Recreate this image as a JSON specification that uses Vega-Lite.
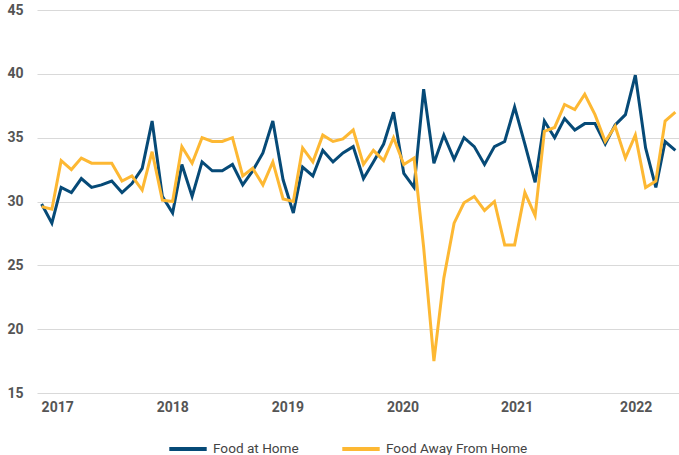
{
  "$schema": "https://vega.github.io/schema/vega-lite/v6.json",
  "width": 642,
  "height": 383,
  "autosize": {"type": "none"},
  "padding": {"left": 37, "top": 10, "right": 0, "bottom": 62},
  "background": "white",
  "config": {"view": {"stroke": null}, "font": "Roboto"},
  "data": {"values": [
    {"date": "2017-01-01", "home": 29.8, "away": 29.6},
    {"date": "2017-02-01", "home": 28.3, "away": 29.4},
    {"date": "2017-03-01", "home": 31.1, "away": 33.2},
    {"date": "2017-04-01", "home": 30.7, "away": 32.5},
    {"date": "2017-05-01", "home": 31.8, "away": 33.4},
    {"date": "2017-06-01", "home": 31.1, "away": 33.0},
    {"date": "2017-07-01", "home": 31.3, "away": 33.0},
    {"date": "2017-08-01", "home": 31.6, "away": 33.0},
    {"date": "2017-09-01", "home": 30.7, "away": 31.6},
    {"date": "2017-10-01", "home": 31.4, "away": 32.0},
    {"date": "2017-11-01", "home": 32.6, "away": 30.9},
    {"date": "2017-12-01", "home": 36.3, "away": 33.9},
    {"date": "2018-01-01", "home": 30.4, "away": 30.1},
    {"date": "2018-02-01", "home": 29.1, "away": 30.0},
    {"date": "2018-03-01", "home": 32.9, "away": 34.3},
    {"date": "2018-04-01", "home": 30.4, "away": 33.0},
    {"date": "2018-05-01", "home": 33.1, "away": 35.0},
    {"date": "2018-06-01", "home": 32.4, "away": 34.7},
    {"date": "2018-07-01", "home": 32.4, "away": 34.7},
    {"date": "2018-08-01", "home": 32.9, "away": 35.0},
    {"date": "2018-09-01", "home": 31.3, "away": 32.0},
    {"date": "2018-10-01", "home": 32.4, "away": 32.6},
    {"date": "2018-11-01", "home": 33.8, "away": 31.3},
    {"date": "2018-12-01", "home": 36.3, "away": 33.1},
    {"date": "2019-01-01", "home": 31.7, "away": 30.2},
    {"date": "2019-02-01", "home": 29.1, "away": 30.0},
    {"date": "2019-03-01", "home": 32.7, "away": 34.2},
    {"date": "2019-04-01", "home": 32.0, "away": 33.1},
    {"date": "2019-05-01", "home": 34.0, "away": 35.2},
    {"date": "2019-06-01", "home": 33.1, "away": 34.7},
    {"date": "2019-07-01", "home": 33.8, "away": 34.9},
    {"date": "2019-08-01", "home": 34.3, "away": 35.6},
    {"date": "2019-09-01", "home": 31.8, "away": 32.9},
    {"date": "2019-10-01", "home": 33.1, "away": 34.0},
    {"date": "2019-11-01", "home": 34.5, "away": 33.2},
    {"date": "2019-12-01", "home": 37.0, "away": 35.0},
    {"date": "2020-01-01", "home": 32.2, "away": 32.9},
    {"date": "2020-02-01", "home": 31.1, "away": 33.4},
    {"date": "2020-03-01", "home": 38.8, "away": 26.4},
    {"date": "2020-04-01", "home": 33.0, "away": 17.5},
    {"date": "2020-05-01", "home": 35.2, "away": 24.0},
    {"date": "2020-06-01", "home": 33.3, "away": 28.3},
    {"date": "2020-07-01", "home": 35.0, "away": 29.9},
    {"date": "2020-08-01", "home": 34.3, "away": 30.4},
    {"date": "2020-09-01", "home": 32.9, "away": 29.3},
    {"date": "2020-10-01", "home": 34.3, "away": 30.0},
    {"date": "2020-11-01", "home": 34.7, "away": 26.6},
    {"date": "2020-12-01", "home": 37.4, "away": 26.6},
    {"date": "2021-01-01", "home": 34.5, "away": 30.7},
    {"date": "2021-02-01", "home": 31.5, "away": 28.9},
    {"date": "2021-03-01", "home": 36.3, "away": 35.5},
    {"date": "2021-04-01", "home": 35.0, "away": 35.8},
    {"date": "2021-05-01", "home": 36.5, "away": 37.6},
    {"date": "2021-06-01", "home": 35.6, "away": 37.2},
    {"date": "2021-07-01", "home": 36.1, "away": 38.4},
    {"date": "2021-08-01", "home": 36.1, "away": 36.8},
    {"date": "2021-09-01", "home": 34.5, "away": 34.7},
    {"date": "2021-10-01", "home": 36.0, "away": 35.9},
    {"date": "2021-11-01", "home": 36.8, "away": 33.4},
    {"date": "2021-12-01", "home": 39.9, "away": 35.2},
    {"date": "2022-01-01", "home": 34.2, "away": 31.1},
    {"date": "2022-02-01", "home": 31.1, "away": 31.6},
    {"date": "2022-03-01", "home": 34.7, "away": 36.3},
    {"date": "2022-04-01", "home": 34.0, "away": 37.0}
  ]},
  "transform": [{"fold": ["home", "away"], "as": ["series", "value"]}],
  "mark": {"type": "line", "strokeWidth": 3},
  "encoding": {
    "x": {
      "field": "date",
      "type": "temporal",
      "scale": {"domain": [{"year": 2016, "month": 12, "date": 18}, {"year": 2022, "month": 4, "date": 12}]},
      "axis": {
        "title": null,
        "grid": false,
        "ticks": false,
        "domain": false,
        "labelFlush": false,
        "labelOverlap": false,
        "values": [
          {"year": 2017, "month": 2, "date": 17},
          {"year": 2018, "month": 1, "date": 31},
          {"year": 2019, "month": 1, "date": 14},
          {"year": 2019, "month": 12, "date": 28},
          {"year": 2020, "month": 12, "date": 7},
          {"year": 2021, "month": 12, "date": 2}
        ],
        "labelExpr": "timeFormat(time(datum.value) + 3024000000, '%Y')",
        "labelPadding": 7,
        "labelFontSize": 14,
        "labelFontWeight": "bold",
        "labelColor": "#555555"
      }
    },
    "y": {
      "field": "value",
      "type": "quantitative",
      "scale": {"domain": [15, 45], "nice": false, "zero": false},
      "axis": {
        "title": null,
        "values": [15, 20, 25, 30, 35, 40, 45],
        "grid": true,
        "gridColor": "#d9d9d9",
        "gridWidth": 1,
        "ticks": false,
        "domain": false,
        "labelPadding": 14,
        "labelFontSize": 14,
        "labelFontWeight": "bold",
        "labelColor": "#555555"
      }
    },
    "color": {
      "field": "series",
      "type": "nominal",
      "scale": {"domain": ["home", "away"], "range": ["#064a77", "#fdb833"]},
      "legend": {
        "title": null,
        "orient": "none",
        "legendX": 130,
        "legendY": 418,
        "direction": "horizontal",
        "symbolType": "stroke",
        "symbolSize": 1400,
        "symbolStrokeWidth": 4,
        "labelFontSize": 13.6,
        "labelColor": "#444444",
        "columnPadding": 35,
        "labelExpr": "datum.label == 'home' ? 'Food at Home' : 'Food Away From Home'"
      }
    }
  }
}
